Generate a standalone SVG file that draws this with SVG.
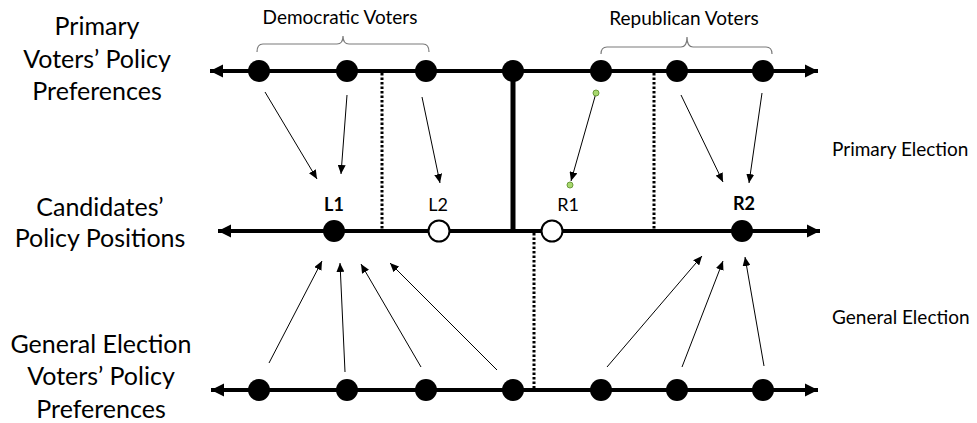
<svg xmlns="http://www.w3.org/2000/svg" width="977" height="423" viewBox="0 0 977 423">
<style>
text{font-family:Lato,"Open Sans","Liberation Sans",sans-serif;fill:#000}
.big{font-size:25px;text-anchor:middle}
.side{font-size:19px}
.grp{font-size:19px;text-anchor:middle}
.cand{font-size:18px;text-anchor:middle}
.b{font-weight:bold}
.axis{stroke:#000;stroke-width:4;fill:none;marker-start:url(#ah);marker-end:url(#ah)}
.dot{fill:#000}
.open{fill:#fff;stroke:#000;stroke-width:2}
.dash{stroke:#000;stroke-width:3;stroke-dasharray:2.5 2;fill:none}
.conn{stroke:#000;stroke-width:1;fill:none;marker-end:url(#sm)}
.brace{stroke:#7a7a7a;stroke-width:1.2;fill:none}
.green{fill:#a8d86e;stroke:#6a9a3a;stroke-width:1}
</style>
<defs>
<marker id="ah" markerUnits="userSpaceOnUse" markerWidth="14" markerHeight="14" viewBox="0 0 14 14" refX="13" refY="7" orient="auto-start-reverse">
<path d="M0,0.5 L13,7 L0,13.5 Z" fill="#000"/>
</marker>
<marker id="sm" markerUnits="userSpaceOnUse" markerWidth="9" markerHeight="8" viewBox="0 0 9 8" refX="9" refY="4" orient="auto">
<path d="M0,0 L9,4 L0,8 Z" fill="#000"/>
</marker>
</defs>

<g id="labels">
<text class="big" x="97" y="35">Primary</text>
<text class="big" x="97" y="68">Voters’ Policy</text>
<text class="big" x="97" y="100">Preferences</text>
<text class="big" x="100" y="216">Candidates’</text>
<text class="big" x="100" y="247">Policy Positions</text>
<text class="big" x="101" y="353">General Election</text>
<text class="big" x="101" y="385">Voters’ Policy</text>
<text class="big" x="101" y="418">Preferences</text>
<text class="side" x="832" y="156">Primary Election</text>
<text class="side" x="832" y="324">General Election</text>
</g>

<g id="groups">
<text class="grp" x="340" y="24">Democratic Voters</text>
<path class="brace" d="M257,52 Q257,44 263,44 L337,44 Q343,44 343,36 Q343,44 349,44 L423,44 Q429,44 429,52"/>
<text class="grp" x="684" y="25">Republican Voters</text>
<path class="brace" d="M601,54 Q601,47 607,47 L681,47 Q687,47 687,37 Q687,47 693,47 L766,47 Q772,47 772,54"/>
</g>

<g id="axes">
<line class="axis" x1="210" y1="71" x2="818" y2="71"/>
<line class="axis" x1="218" y1="231" x2="820" y2="231"/>
<line class="axis" x1="211" y1="390" x2="818" y2="390"/>
<line x1="513" y1="71" x2="513" y2="233" stroke="#000" stroke-width="5"/>
<line class="dash" x1="382" y1="73" x2="382" y2="231"/>
<line class="dash" x1="654" y1="73" x2="654" y2="231"/>
<line class="dash" x1="534" y1="233" x2="534" y2="390"/>
</g>

<g id="primary-voters">
<circle class="dot" cx="259" cy="71" r="11"/>
<circle class="dot" cx="347" cy="71" r="11"/>
<circle class="dot" cx="426" cy="71" r="11"/>
<circle class="dot" cx="513" cy="71" r="11"/>
<circle class="dot" cx="601" cy="71" r="11"/>
<circle class="dot" cx="677" cy="71" r="11"/>
<circle class="dot" cx="763" cy="71" r="11"/>
</g>

<g id="candidates">
<circle class="dot" cx="334" cy="231" r="11"/>
<text class="cand b" x="334" y="211">L1</text>
<circle class="open" cx="439" cy="231" r="10.5"/>
<text class="cand" x="438" y="211">L2</text>
<circle class="open" cx="552" cy="231" r="10.5"/>
<text class="cand" x="568" y="211">R1</text>
<circle class="dot" cx="742" cy="231" r="11"/>
<text class="cand b" x="744" y="210">R2</text>
</g>

<g id="general-voters">
<circle class="dot" cx="259" cy="390" r="11"/>
<circle class="dot" cx="347" cy="390" r="11"/>
<circle class="dot" cx="426" cy="390" r="11"/>
<circle class="dot" cx="513" cy="390" r="11"/>
<circle class="dot" cx="601" cy="390" r="11"/>
<circle class="dot" cx="677" cy="390" r="11"/>
<circle class="dot" cx="763" cy="390" r="11"/>
</g>

<g id="connectors">
<line class="conn" x1="265" y1="92" x2="317" y2="179"/>
<line class="conn" x1="347" y1="95" x2="341" y2="174"/>
<line class="conn" x1="422" y1="97" x2="440" y2="183"/>
<line class="conn" x1="596" y1="93" x2="571" y2="181"/>
<line class="conn" x1="681" y1="95" x2="723" y2="182"/>
<line class="conn" x1="762" y1="93" x2="749" y2="183"/>
<line class="conn" x1="269" y1="363" x2="322" y2="261"/>
<line class="conn" x1="345" y1="372" x2="340" y2="263"/>
<line class="conn" x1="421" y1="367" x2="361" y2="264"/>
<line class="conn" x1="497" y1="370" x2="390" y2="263"/>
<line class="conn" x1="607" y1="367" x2="702" y2="256"/>
<line class="conn" x1="682" y1="367" x2="723" y2="261"/>
<line class="conn" x1="764" y1="366" x2="745" y2="257"/>
<circle class="green" cx="596" cy="93" r="3"/>
<circle class="green" cx="570" cy="185" r="3"/>
</g>
</svg>
